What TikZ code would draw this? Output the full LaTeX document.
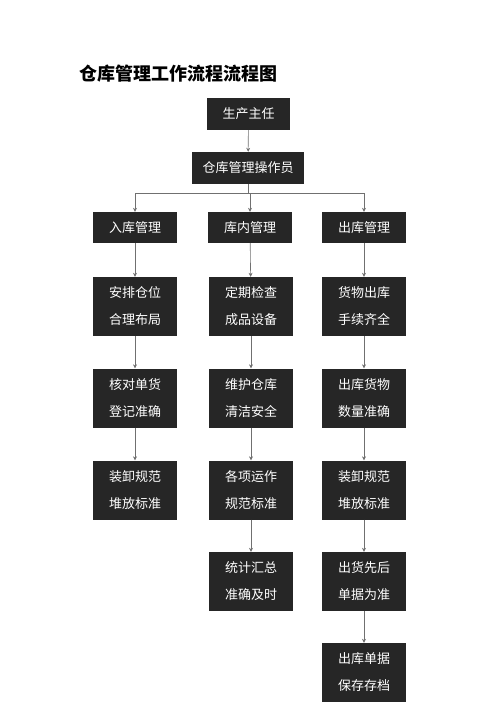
\documentclass[tikz,border=0pt]{standalone}
\usepackage{fontspec}
\newfontfamily\cjk{Noto Sans CJK SC}
\usetikzlibrary{arrows.meta}
\definecolor{boxfill}{HTML}{262626}
\definecolor{linegray}{HTML}{707070}
\begin{document}
\begin{tikzpicture}[x=1pt,y=-1pt,
  box/.style={draw=none,fill=boxfill,text=white,align=center,
    font=\cjk\fontsize{13}{27}\selectfont,inner sep=0pt,
    minimum width=84pt,minimum height=59pt},
  headbox/.style={box,minimum height=32pt},
  link/.style={draw=linegray,line width=0.6pt,-{Stealth[length=4pt,width=4pt]}}]
 \useasboundingbox (0,0) rectangle (500,707);
 \node[anchor=west,font=\cjk\bfseries\fontsize{18}{20}\selectfont] (title) at (76,74) {仓库管理工作流程流程图};
 % top
 \node[headbox,minimum width=83pt] (boss) at (248.5,114) {生产主任};
 \node[headbox,minimum width=112pt] (oper) at (248,168) {仓库管理操作员};
 \node[headbox,minimum height=31pt] (inm) at (135,227.5) {入库管理};
 \node[headbox,minimum height=31pt] (midm) at (250,227.5) {库内管理};
 \node[headbox,minimum height=31pt] (outm) at (364,227.5) {出库管理};
 % left column
 \node[box] (in1) at (135,306.5) {安排仓位\\合理布局};
 \node[box] (in2) at (135,398) {核对单货\\登记准确};
 \node[box] (in3) at (135,490) {装卸规范\\堆放标准};
 % middle column
 \node[box] (mid1) at (251,306.5) {定期检查\\成品设备};
 \node[box] (mid2) at (251,398) {维护仓库\\清洁安全};
 \node[box] (mid3) at (251,490) {各项运作\\规范标准};
 \node[box] (mid4) at (251,581.5) {统计汇总\\准确及时};
 % right column
 \node[box] (out1) at (364,306.5) {货物出库\\手续齐全};
 \node[box] (out2) at (364,398) {出库货物\\数量准确};
 \node[box] (out3) at (364,490) {装卸规范\\堆放标准};
 \node[box] (out4) at (364,581.5) {出货先后\\单据为准};
 \node[box] (out5) at (364,672.5) {出库单据\\保存存档};
 % connectors
 \draw[link] (boss) -- (oper);
 \coordinate (fork) at (248,193);
 \draw[link] (oper.south) -- (fork) -| (inm.north);
 \draw[link] (fork) -| (outm.north);
 \draw[link] (fork) -- (fork -| midm.north) -- (midm.north);
 \draw[link] (inm) -- (in1);
 \draw[link] (in1) -- (in2);
 \draw[link] (in2) -- (in3);
 \draw[link] (midm) -- (mid1);
 \draw[link] (mid1) -- (mid2);
 \draw[link] (mid2) -- (mid3);
 \draw[link] (mid3) -- (mid4);
 \draw[link] (outm) -- (out1);
 \draw[link] (out1) -- (out2);
 \draw[link] (out2) -- (out3);
 \draw[link] (out3) -- (out4);
 \draw[link] (out4) -- (out5);
\end{tikzpicture}
\end{document}
